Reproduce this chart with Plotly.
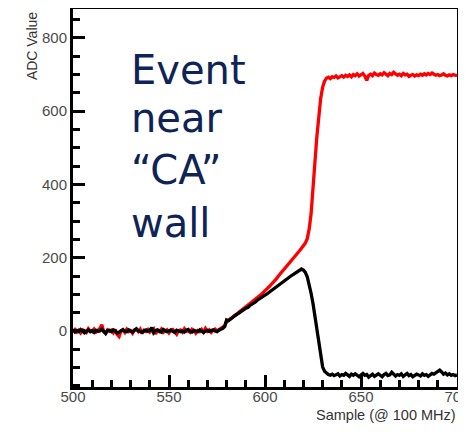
import plotly.graph_objects as go

samples = list(range(500, 701))

black_adc = [
    2, -3, 1, -2, 4, 0, -5, -1, 3, -2,
    1, -4, 2, -1, 0, 5, -3, -7, 1, 2,
    -2, 3, 0, -6, -3, 1, 4, -1, -2, 3,
    0, -3, 2, 6, 1, -2, -4, 0, 3, -1,
    2, 9, -5, 1, 3, 0, -3, 4, 1, -2,
    0, 3, -1, -4, 2, 1, -2, 0, -3, 2,
    4, -1, -3, 1, 0, -2, 3, -1, -4, 0,
    2, -1, 1, 3, 0, -2, 2, 4, 7, 12,
    30, 28, 33, 36, 40, 44, 47, 51, 55, 58,
    62, 64, 69, 72, 75, 79, 84, 87, 91, 94,
    98, 101, 105, 109, 112, 117, 121, 124, 130, 134,
    138, 141, 146, 149, 152, 155, 159, 163, 166, 169,
    166, 160, 148, 128, 103, 75, 40, 0, -40, -75,
    -98, -110, -116, -119, -121, -118, -122, -120, -117, -123,
    -119, -121, -116, -120, -124, -118, -121, -117, -122, -125,
    -120, -116, -121, -119, -126, -122, -118, -124, -120, -117,
    -121, -125, -119, -116, -122, -120, -113, -118, -123, -119,
    -121, -117, -124, -120, -116, -122, -119, -125, -121, -118,
    -120, -123, -117, -121, -119, -124, -120, -116, -118, -115,
    -110, -107, -112, -118, -115, -120, -117, -121, -119, -122,
    -120,
]

red_adc = [
    -1, 4, -3, 2, -5, 3, 1, -4, 6, 0,
    -2, 5, -3, 1, 7, 17, -2, -6, 3, -1,
    2, -5, 4, -9, -15, 0, 3, -4, 5, -2,
    1, -6, 3, 4, -2, 5, -7, 2, -1, 4,
    -3, 2, 6, -8, 1, -2, 5, -4, 0, 3,
    -5, 2, 4, -2, -9, 1, 3, -3, 6, -1,
    0, -4, 5, 2, -6, 1, -2, 4, -3, 7,
    -1, 3, -4, 2, 5, 0, 3, 6, 9, 14,
    26, 29, 34, 37, 42, 45, 49, 54, 57, 62,
    66, 70, 73, 78, 82, 86, 91, 95, 100, 106,
    110, 115, 120, 125, 131, 137, 143, 150, 156, 163,
    170, 175, 181, 187, 193, 199, 206, 212, 219, 226,
    233, 240, 252, 278, 320, 380, 460, 530, 590, 635,
    665, 682, 690, 693, 689, 694, 692, 696, 691, 695,
    697, 693, 698, 695, 699, 694, 700, 697, 702, 696,
    699, 703, 696, 684, 698, 701, 697, 704, 700, 698,
    702, 699, 705, 701, 697, 703, 700, 706, 702, 698,
    701, 697, 703, 699, 701, 695, 698, 700, 696, 699,
    697, 701, 698, 702, 699, 703, 700, 704, 701, 698,
    700, 697, 699, 702, 698, 696, 699, 697, 700, 698,
    697,
]

label_lines = ["Event", "near", "\u201cCA\u201d", "wall"]
x_title = "Sample (@ 100 MHz)"
y_title = "ADC Value"

fig = go.Figure()
fig.add_trace(go.Scatter(x=samples, y=red_adc, mode="lines",
                         line=dict(color="#ff0000", width=3.3), showlegend=False))
fig.add_trace(go.Scatter(x=samples, y=black_adc, mode="lines",
                         line=dict(color="#000000", width=3.3), showlegend=False))

tickfont = dict(family="Liberation Sans, Arial, sans-serif", size=15, color="#4a4a4a")

fig.update_xaxes(
    range=[500, 700], tick0=500, dtick=50, ticks="inside", ticklen=12, tickwidth=3,
    tickcolor="black", showline=True, linewidth=3, linecolor="black", mirror=True,
    showgrid=False, zeroline=False, tickfont=tickfont, ticklabeloverflow="allow",
    ticklabelstandoff=-6, automargin=False,
    minor=dict(dtick=10, tick0=500, ticks="inside", ticklen=7, tickwidth=3,
               tickcolor="black", showgrid=False),
)
fig.update_yaxes(
    range=[-153, 879], tick0=0, dtick=200, ticks="inside", ticklen=12, tickwidth=3,
    tickcolor="black", showline=True, linewidth=3, linecolor="black", mirror=True,
    showgrid=False, zeroline=False, tickfont=tickfont, automargin=False,
    minor=dict(dtick=50, tick0=0, ticks="inside", ticklen=7, tickwidth=3,
               tickcolor="black", showgrid=False),
)

centers = [0.8386, 0.7116, 0.574, 0.4339]
for txt, yc in zip(label_lines, centers):
    fig.add_annotation(text=txt, xref="paper", yref="paper", x=0.146, y=yc,
                       xanchor="left", yanchor="middle", showarrow=False,
                       font=dict(family="DejaVu Sans, Verdana, sans-serif", size=40,
                                 color="#0f2456"))

fig.add_annotation(text=y_title, xref="paper", yref="paper", x=-0.1068, y=0.997,
                   xanchor="center", yanchor="top", textangle=-90, showarrow=False,
                   font=dict(family="Liberation Sans, Arial, sans-serif", size=14,
                             color="#333333"))
fig.add_annotation(text=x_title, xref="paper", yref="paper", x=1.0026, y=-0.0728,
                   xanchor="right", yanchor="middle", showarrow=False,
                   font=dict(family="Liberation Sans, Arial, sans-serif", size=14.5,
                             color="#333333"))

# the page body has an 8px default margin: keep the figure inside the 466x432 window
fig.update_layout(
    width=450, height=416, margin=dict(l=65, r=1, t=1, b=37),
    paper_bgcolor="white", plot_bgcolor="white",
)

fig.write_html("out.html")
